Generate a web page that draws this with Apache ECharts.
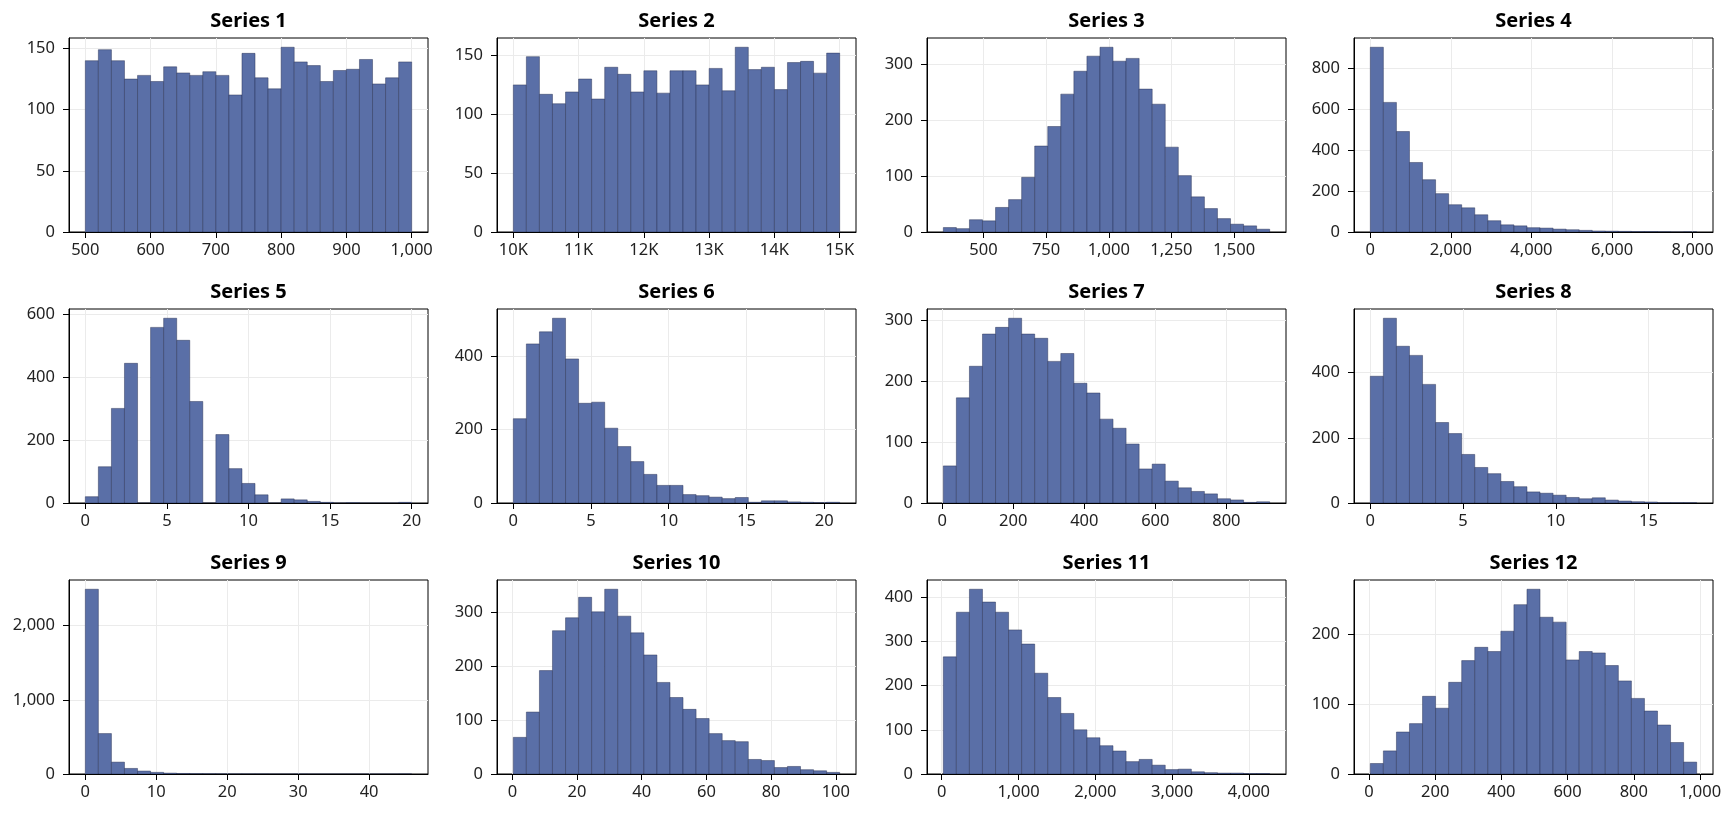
<!DOCTYPE html>
<html><head><meta charset="utf-8">
<script src="https://cdn.jsdelivr.net/npm/echarts@6/dist/echarts.min.js"></script>
<style>html,body{margin:0;padding:0;background:#fff}#c{width:1735px;height:814px}</style>
</head><body><div id="c"></div>
<script>
// ---------------- data ----------------
const titles = ['Series 1','Series 2','Series 3','Series 4','Series 5','Series 6','Series 7','Series 8','Series 9','Series 10','Series 11','Series 12'];

const counts1  = [140,149,140,125,128,123,135,130,128,131,128,112,146,126,117,151,139,136,123,132,133,141,121,126,139];
const counts2  = [125,149,117,109,119,130,113,140,134,119,137,118,137,137,125,139,120,157,138,140,121,144,145,135,152];
const counts3  = [8,6,22,20,44,58,98,154,189,247,288,315,331,306,311,256,229,152,101,63,42,24,14,11,5];
const counts4  = [901,632,490,339,255,187,133,118,84,55,35,30,21,19,14,11,8,5,4,3,2,2,1,0,1];
const counts5  = [20,115,300,443,0,557,586,516,322,0,217,109,62,26,0,13,10,5,2,0,1,0,0,0,2];
const counts6  = [230,434,467,504,393,272,275,204,154,113,78,48,48,23,20,16,12,15,2,6,6,3,2,1,2];
const counts7  = [61,173,225,278,289,304,278,271,233,246,197,181,138,123,97,56,64,36,25,19,15,7,5,1,2];
const counts8  = [389,567,481,453,364,247,213,149,109,90,66,50,34,30,24,17,13,16,9,6,4,3,1,1,1];
const counts9  = [2490,545,160,75,40,22,12,7,4,3,2,1,1,1,0,0,1,0,0,0,0,0,0,0,1];
const counts10 = [68,115,192,266,290,328,301,343,293,262,221,170,142,120,103,75,62,60,27,25,12,14,8,6,3];
const counts11 = [265,366,418,389,366,326,294,228,173,137,100,82,64,52,28,33,20,10,11,5,3,2,2,1,1];
const counts12 = [15,33,60,72,111,94,131,162,181,175,204,242,264,224,217,163,175,173,155,133,108,90,70,45,17];
const allCounts = [counts1,counts2,counts3,counts4,counts5,counts6,counts7,counts8,counts9,counts10,counts11,counts12];

// data range (min, max) of each sample
const dataMin = [500, 10000, 340, 2, 0, 0, 3, 0, 0, 0.3, 21, 4];
const dataMax = [1000, 15000, 1642, 8100, 20, 21, 922, 17.6, 46, 101.2, 4270, 990];

// tick values and labels
const xTickValues = [
  [500,600,700,800,900,1000],
  [10000,11000,12000,13000,14000,15000],
  [500,750,1000,1250,1500],
  [0,2000,4000,6000,8000],
  [0,5,10,15,20],
  [0,5,10,15,20],
  [0,200,400,600,800],
  [0,5,10,15],
  [0,10,20,30,40],
  [0,20,40,60,80,100],
  [0,1000,2000,3000,4000],
  [0,200,400,600,800,1000]
];
const xTickLabels = [
  ['500','600','700','800','900','1,000'],
  ['10K','11K','12K','13K','14K','15K'],
  ['500','750','1,000','1,250','1,500'],
  ['0','2,000','4,000','6,000','8,000'],
  ['0','5','10','15','20'],
  ['0','5','10','15','20'],
  ['0','200','400','600','800'],
  ['0','5','10','15'],
  ['0','10','20','30','40'],
  ['0','20','40','60','80','100'],
  ['0','1,000','2,000','3,000','4,000'],
  ['0','200','400','600','800','1,000']
];
const yTickValues = [
  [0,50,100,150],[0,50,100,150],[0,100,200,300],[0,200,400,600,800],
  [0,200,400,600],[0,200,400],[0,100,200,300],[0,200,400],
  [0,1000,2000],[0,100,200,300],[0,100,200,300,400],[0,100,200]
];
const yTickLabels = [
  ['0','50','100','150'],['0','50','100','150'],['0','100','200','300'],['0','200','400','600','800'],
  ['0','200','400','600'],['0','200','400'],['0','100','200','300'],['0','200','400'],
  ['0','1,000','2,000'],['0','100','200','300'],['0','100','200','300','400'],['0','100','200']
];

// ---------------- layout / style ----------------
const GRID_LEFT = [69, 497, 927, 1354];
const GRID_TOP = [38, 309, 580];
const GRID_W = 359, GRID_H = 194;
const FONT = 'Noto Sans';
const FILL = '#5a6fa7';
const EDGE = 'rgba(35,45,80,0.45)';

const chart = echarts.init(document.getElementById('c'), null, {renderer: 'canvas'});

const grids = [], xAxes = [], yAxes = [], series = [], titleList = [];

function fmt(values, labels) {
  return function (v) {
    for (let i = 0; i < values.length; i++) if (Math.abs(values[i] - v) < 1e-9) return labels[i];
    return '';
  };
}

function renderItem(params, api) {
  const x0 = api.value(0), x1 = api.value(1), c = api.value(2);
  const p0 = api.coord([x0, c]);
  const p1 = api.coord([x1, 0]);
  return {
    type: 'rect',
    shape: {x: p0[0], y: p0[1], width: p1[0] - p0[0], height: p1[1] - p0[1]},
    style: {fill: FILL, stroke: EDGE, lineWidth: 1}
  };
}

for (let k = 0; k < 12; k++) {
  const r = Math.floor(k / 4), c = k % 4;
  const left = GRID_LEFT[c], top = GRID_TOP[r];
  grids.push({left: left, top: top, width: GRID_W, height: GRID_H, show: true,
    borderColor: '#000', borderWidth: 1, backgroundColor: 'transparent', containLabel: false});

  const counts = allCounts[k];
  const n = counts.length;
  const lo = dataMin[k], hi = dataMax[k], span = hi - lo, bw = span / n;
  const xmin = lo - 0.05 * span, xmax = hi + 0.05 * span;
  const ymax = Math.max.apply(null, counts) * 1.05;

  // background axes (grid lines only)
  xAxes.push({type: 'value', gridIndex: k, position: 'bottom', min: xmin, max: xmax, z: 0,
    axisLine: {show: false, onZero: false}, axisLabel: {show: false},
    axisTick: {show: false, customValues: xTickValues[k]},
    splitLine: {show: true, lineStyle: {color: '#ebebeb', width: 1}}});
  yAxes.push({type: 'value', gridIndex: k, position: 'left', min: 0, max: ymax, z: 0,
    axisLine: {show: false, onZero: false}, axisLabel: {show: false},
    axisTick: {show: false, customValues: yTickValues[k]},
    splitLine: {show: true, lineStyle: {color: '#ebebeb', width: 1}}});
  // foreground axes (lines, ticks, labels)
  xAxes.push({type: 'value', gridIndex: k, position: 'bottom', min: xmin, max: xmax, z: 5,
    axisLine: {show: true, onZero: false, lineStyle: {color: '#000', width: 1}},
    axisTick: {show: true, length: 6, lineStyle: {color: '#000', width: 1}, customValues: xTickValues[k]},
    axisLabel: {show: true, margin: 10, color: '#222', fontFamily: FONT, fontSize: 16.5,
      customValues: xTickValues[k], formatter: fmt(xTickValues[k], xTickLabels[k]),
      showMinLabel: true, showMaxLabel: true, hideOverlap: false},
    splitLine: {show: false}});
  yAxes.push({type: 'value', gridIndex: k, position: 'left', min: 0, max: ymax, z: 5,
    axisLine: {show: true, onZero: false, lineStyle: {color: '#000', width: 1}},
    axisTick: {show: true, length: 6, lineStyle: {color: '#000', width: 1}, customValues: yTickValues[k]},
    axisLabel: {show: true, margin: 14, color: '#222', fontFamily: FONT, fontSize: 16.5,
      customValues: yTickValues[k], formatter: fmt(yTickValues[k], yTickLabels[k]),
      showMinLabel: true, showMaxLabel: true, hideOverlap: false},
    splitLine: {show: false}});

  const data = counts.map((v, i) => [lo + i * bw, lo + (i + 1) * bw, v]);
  series.push({type: 'custom', xAxisIndex: 2 * k, yAxisIndex: 2 * k, z: 2,
    renderItem: renderItem, encode: {x: [0, 1], y: 2}, data: data, clip: true, silent: true});

  titleList.push({text: titles[k], left: left + GRID_W / 2, top: top - 26.5, padding: 0,
    textAlign: 'center', textVerticalAlign: 'top',
    textStyle: {fontFamily: FONT, fontSize: 20, fontWeight: 'bold', color: '#000'}});
}

chart.setOption({
  animation: false,
  backgroundColor: '#fff',
  title: titleList,
  grid: grids,
  xAxis: xAxes,
  yAxis: yAxes,
  series: series
});
</script></body></html>
